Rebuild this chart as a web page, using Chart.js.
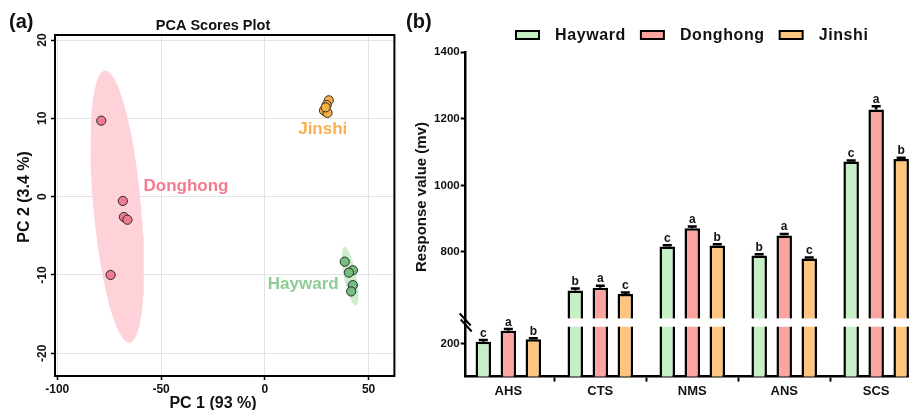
<!DOCTYPE html>
<html><head><meta charset="utf-8">
<script src="https://cdn.jsdelivr.net/npm/chart.js@4.4.1/dist/chart.umd.min.js"></script>
<style>
html,body{margin:0;padding:0;background:#fff;width:909px;height:410px;overflow:hidden;}
#ca{position:absolute;left:0;top:0;}
#cb{position:absolute;left:400px;top:0;}
</style></head><body>
<canvas id="ca" width="400" height="410"></canvas>
<canvas id="cb" width="509" height="410"></canvas>
<script>
// ---------- Panel (a): PCA scores ----------
const donghongPC1 = [-78.8, -68.4, -67.9, -66.2, -74.3];
const donghongPC2 = [9.7, -0.55, -2.6, -2.95, -10.0];
const jinshiPC1 = [30.8, 29.8, 28.5, 30.2, 29.3];
const jinshiPC2 = [12.3, 11.7, 11.0, 10.7, 11.4];
const haywardPC1 = [38.5, 42.4, 40.5, 42.4, 41.6];
const haywardPC2 = [-8.3, -9.4, -9.7, -11.3, -12.1];
const pc1Ticks = [-100, -50, 0, 50];
const pc2Ticks = [-20, -10, 0, 10, 20];

// ---------- Panel (b): sensor responses ----------
const categories = ['AHS', 'CTS', 'NMS', 'ANS', 'SCS'];
const hayward  = [205, 684, 816, 789, 1072];
const donghong = [238, 692, 871, 849, 1228];
const jinshi   = [212, 673, 819, 780, 1079];
const haywardErr  = [5, 6, 4, 4, 3];
const donghongErr = [5, 6, 5, 5, 10];
const jinshiErr   = [3, 5, 4, 3, 4];
const haywardSig  = ['c', 'b', 'c', 'b', 'c'];
const donghongSig = ['a', 'a', 'a', 'a', 'a'];
const jinshiSig   = ['b', 'c', 'b', 'c', 'b'];
const responseTicks = [200, 800, 1000, 1200, 1400];

const FONT = '"Liberation Sans", Arial, sans-serif';
const f = (s) => 'bold ' + s + 'px ' + FONT;

function pts(xs, ys) { return xs.map((x, i) => ({ x: x, y: ys[i] })); }

// 95% data ellipse computed from the group's scores
function ellipse(xs, ys) {
  const k = Math.sqrt(5.991), n = xs.length, N = 120;
  const mx = xs.reduce((a, b) => a + b, 0) / n, my = ys.reduce((a, b) => a + b, 0) / n;
  let sxx = 0, syy = 0, sxy = 0;
  for (let i = 0; i < n; i++) {
    sxx += (xs[i] - mx) ** 2; syy += (ys[i] - my) ** 2; sxy += (xs[i] - mx) * (ys[i] - my);
  }
  sxx /= n - 1; syy /= n - 1; sxy /= n - 1;
  const tr = sxx + syy, det = sxx * syy - sxy * sxy;
  const d = Math.sqrt(Math.max(tr * tr / 4 - det, 0));
  const a = k * Math.sqrt(tr / 2 + d), b = k * Math.sqrt(Math.max(tr / 2 - d, 0));
  const th = 0.5 * Math.atan2(2 * sxy, sxx - syy);
  const out = [];
  for (let j = 0; j <= N; j++) {
    const t = 2 * Math.PI * j / N;
    out.push({ x: mx + a * Math.cos(t) * Math.cos(th) - b * Math.sin(t) * Math.sin(th),
               y: my + a * Math.cos(t) * Math.sin(th) + b * Math.sin(t) * Math.cos(th) });
  }
  return out;
}

const groupsA = [
  { name: 'Donghong', xs: donghongPC1, ys: donghongPC2, pt: '#F07A90', el: '#FFD2DA', txt: '#F47A92', lx: -38, ly: 1.3 },
  { name: 'Jinshi', xs: jinshiPC1, ys: jinshiPC2, pt: '#F8B045', el: '#FDDDB0', txt: '#F9B24F', lx: 27.9, ly: 8.6 },
  { name: 'Hayward', xs: haywardPC1, ys: haywardPC2, pt: '#72BF7E', el: '#CDEBCD', txt: '#8FCB92', lx: 18.5, ly: -11.2 }
];

const dsA = [];
groupsA.forEach(g => {
  dsA.push({ label: g.name + ' ellipse', data: ellipse(g.xs, g.ys), showLine: true, fill: 'shape',
    backgroundColor: g.el, borderColor: 'rgba(0,0,0,0)', borderWidth: 1, pointRadius: 0, tension: 0, order: 3 });
});
groupsA.forEach(g => {
  dsA.push({ label: g.name, data: pts(g.xs, g.ys), pointRadius: 4.6, backgroundColor: g.pt,
    borderColor: '#2a2a2a', borderWidth: 1, order: 1 });
});

const plotA = {
  id: 'plotA',
  afterDraw(chart) {
    const ctx = chart.ctx, ca = chart.chartArea, xs = chart.scales.x, ys = chart.scales.y;
    ctx.save();
    ctx.strokeStyle = '#000'; ctx.lineWidth = 2;
    ctx.strokeRect(ca.left, ca.top, ca.right - ca.left, ca.bottom - ca.top);
    ctx.fillStyle = '#111';
    ctx.font = f(12); ctx.textAlign = 'center'; ctx.textBaseline = 'middle';
    pc2Ticks.forEach(v => {
      ctx.save(); ctx.translate(43, ys.getPixelForValue(v)); ctx.rotate(-Math.PI / 2);
      ctx.fillText(String(v), 0, 0); ctx.restore();
    });
    ctx.font = f(14.5); ctx.fillText('PCA Scores Plot', 213, 26);
    ctx.font = f(20); ctx.textAlign = 'left'; ctx.fillText('(a)', 9, 22);
    ctx.textAlign = 'center';
    ctx.font = f(16); ctx.fillText('PC 1 (93 %)', 213, 404);
    ctx.save(); ctx.translate(25, 197); ctx.rotate(-Math.PI / 2); ctx.fillText('PC 2 (3.4 %)', 0, 0); ctx.restore();
    ctx.font = f(17);
    groupsA.forEach(g => {
      ctx.fillStyle = g.txt;
      ctx.fillText(g.name, xs.getPixelForValue(g.lx), ys.getPixelForValue(g.ly));
    });
    ctx.restore();
  }
};

new Chart(document.getElementById('ca'), {
  type: 'scatter',
  data: { datasets: dsA },
  options: {
    responsive: false, animation: false, events: [],
    layout: { padding: { left: 0, right: 3, top: 35, bottom: 0 } },
    plugins: { legend: { display: false }, tooltip: { enabled: false }, title: { display: false } },
    scales: {
      x: { type: 'linear', min: -101.1, max: 62.43,
        afterBuildTicks: s => { s.ticks = pc1Ticks.map(v => ({ value: v })); },
        afterFit: s => { s.height = 34; },
        grid: { color: '#E2E2E2', lineWidth: 1, tickColor: '#000', tickLength: 4, tickWidth: 1.5 },
        border: { color: '#000', width: 2 },
        ticks: { font: { family: FONT, size: 12, weight: 'bold' }, color: '#111', padding: 2, maxRotation: 0, autoSkip: false, callback: v => String(v) } },
      y: { type: 'linear', min: -22.9, max: 20.64,
        afterBuildTicks: s => { s.ticks = pc2Ticks.map(v => ({ value: v })); },
        afterFit: s => { s.width = 55; },
        grid: { color: '#E2E2E2', lineWidth: 1, tickColor: '#000', tickLength: 4, tickWidth: 1.5 },
        border: { color: '#000', width: 2 },
        ticks: { display: false } }
    }
  },
  plugins: [plotA]
});

// ---------- broken y scale for panel (b) ----------
const BREAK_LOW = 250, BREAK_HIGH = 600, GAP_UNITS = 25;
class BrokenLinearScale extends Chart.LinearScale {
  _u(v) {
    const lo = BREAK_LOW - this.min;
    if (v <= BREAK_LOW) return v - this.min;
    if (v >= BREAK_HIGH) return lo + GAP_UNITS + (v - BREAK_HIGH);
    return lo + (v - BREAK_LOW) / (BREAK_HIGH - BREAK_LOW) * GAP_UNITS;
  }
  getPixelForValue(v) {
    if (v === null || v === undefined || isNaN(v)) return NaN;
    return this.getPixelForDecimal(this._u(v) / this._u(this.max));
  }
  getValueForPixel(p) {
    const u = this.getDecimalForPixel(p) * this._u(this.max);
    const lo = BREAK_LOW - this.min;
    if (u <= lo) return this.min + u;
    if (u >= lo + GAP_UNITS) return BREAK_HIGH + (u - lo - GAP_UNITS);
    return BREAK_LOW + (u - lo) / GAP_UNITS * (BREAK_HIGH - BREAK_LOW);
  }
}
BrokenLinearScale.id = 'brokenLinear';
BrokenLinearScale.defaults = {};
Chart.register(BrokenLinearScale);

const seriesB = [
  { label: 'Hayward', vals: hayward, err: haywardErr, sig: haywardSig, color: '#C5F0C5' },
  { label: 'Donghong', vals: donghong, err: donghongErr, sig: donghongSig, color: '#FCA5A0' },
  { label: 'Jinshi', vals: jinshi, err: jinshiErr, sig: jinshiSig, color: '#FFC57F' }
];

const plotB = {
  id: 'plotB',
  afterDatasetsDraw(chart) {
    const ctx = chart.ctx, ca = chart.chartArea, ys = chart.scales.y;
    ctx.save();
    // axis break band across the bars
    const y1 = ys.getPixelForValue(BREAK_HIGH), y2 = ys.getPixelForValue(BREAK_LOW);
    ctx.fillStyle = '#fff';
    ctx.fillRect(ca.left + 1.5, y1, ca.right - ca.left, y2 - y1);
    // error bars and letters
    seriesB.forEach((s, di) => {
      const meta = chart.getDatasetMeta(di);
      meta.data.forEach((bar, i) => {
        const yTop = ys.getPixelForValue(s.vals[i]);
        const yErr = ys.getPixelForValue(s.vals[i] + s.err[i]);
        ctx.strokeStyle = '#000'; ctx.lineWidth = 2.5;
        ctx.beginPath(); ctx.moveTo(bar.x, yTop); ctx.lineTo(bar.x, yErr);
        ctx.moveTo(bar.x - 4.5, yErr); ctx.lineTo(bar.x + 4.5, yErr); ctx.stroke();
        ctx.fillStyle = '#111'; ctx.font = f(12); ctx.textAlign = 'center'; ctx.textBaseline = 'alphabetic';
        ctx.fillText(s.sig[i], bar.x, yErr - 3.5);
      });
    });
    ctx.restore();
  },
  afterDraw(chart) {
    const ctx = chart.ctx, ca = chart.chartArea, ys = chart.scales.y;
    ctx.save();
    const ym = (ys.getPixelForValue(BREAK_HIGH) + ys.getPixelForValue(BREAK_LOW)) / 2;
    ctx.strokeStyle = '#000'; ctx.lineWidth = 2;
    ctx.beginPath();
    ctx.moveTo(ca.left - 6, ym - 9); ctx.lineTo(ca.left + 5, ym + 3);
    ctx.moveTo(ca.left - 5, ym - 3); ctx.lineTo(ca.left + 6, ym + 9);
    ctx.stroke();
    ctx.fillStyle = '#111';
    ctx.font = f(20); ctx.textAlign = 'left'; ctx.textBaseline = 'middle';
    ctx.fillText('(b)', 6, 22);
    ctx.font = f(15); ctx.textAlign = 'center';
    ctx.save(); ctx.translate(22, 197); ctx.rotate(-Math.PI / 2); ctx.fillText('Response value (mv)', 0, 0); ctx.restore();
    // legend
    let x = 116; const yc = 35;
    ctx.font = f(16); ctx.textAlign = 'left'; ctx.textBaseline = 'middle';
    try { ctx.letterSpacing = '0.6px'; } catch (e) {}
    seriesB.forEach(s => {
      ctx.fillStyle = s.color; ctx.fillRect(x, yc - 4, 23, 8);
      ctx.strokeStyle = '#000'; ctx.lineWidth = 2; ctx.strokeRect(x, yc - 4, 23, 8);
      ctx.fillStyle = '#111'; ctx.fillText(s.label, x + 39, yc + 1);
      x += 39 + ctx.measureText(s.label).width + 15;
    });
    ctx.restore();
  }
};

new Chart(document.getElementById('cb'), {
  type: 'bar',
  data: {
    datasets: seriesB.map(s => ({
      label: s.label, data: categories.map((c, i) => ({ x: i, y: s.vals[i] })),
      backgroundColor: s.color, borderColor: '#000', borderWidth: 2.5, borderSkipped: false,
      categoryPercentage: 0.816, barPercentage: 0.62
    }))
  },
  options: {
    responsive: false, animation: false, events: [],
    layout: { padding: { left: 0, right: 0, top: 52.3, bottom: 0 } },
    plugins: { legend: { display: false }, tooltip: { enabled: false }, title: { display: false } },
    scales: {
      x: { type: 'linear', min: -0.4636, max: 4.357, offset: false,
        afterBuildTicks: s => { s.ticks = categories.map((c, i) => ({ value: i })); },
        afterFit: s => { s.height = 33.4; },
        grid: { drawOnChartArea: false, drawTicks: true, tickLength: 5, tickWidth: 2, tickColor: '#000' },
        border: { color: '#000', width: 2.5 },
        ticks: { font: { family: FONT, size: 13, weight: 'bold' }, color: '#111', padding: 2, maxRotation: 0, autoSkip: false,
          callback: v => categories[v] !== undefined ? categories[v] : '' } },
      y: { type: 'brokenLinear', min: 100, max: 1400,
        afterBuildTicks: s => { s.ticks = responseTicks.map(v => ({ value: v })); },
        afterFit: s => { s.width = 65.7; },
        grid: { drawOnChartArea: false, drawTicks: true, tickLength: 5, tickWidth: 2, tickColor: '#000' },
        border: { color: '#000', width: 2.5 },
        ticks: { font: { family: FONT, size: 11.5, weight: 'bold' }, color: '#111', padding: 1, autoSkip: false, callback: v => String(v) } }
    }
  },
  plugins: [plotB]
});
</script>
</body></html>
